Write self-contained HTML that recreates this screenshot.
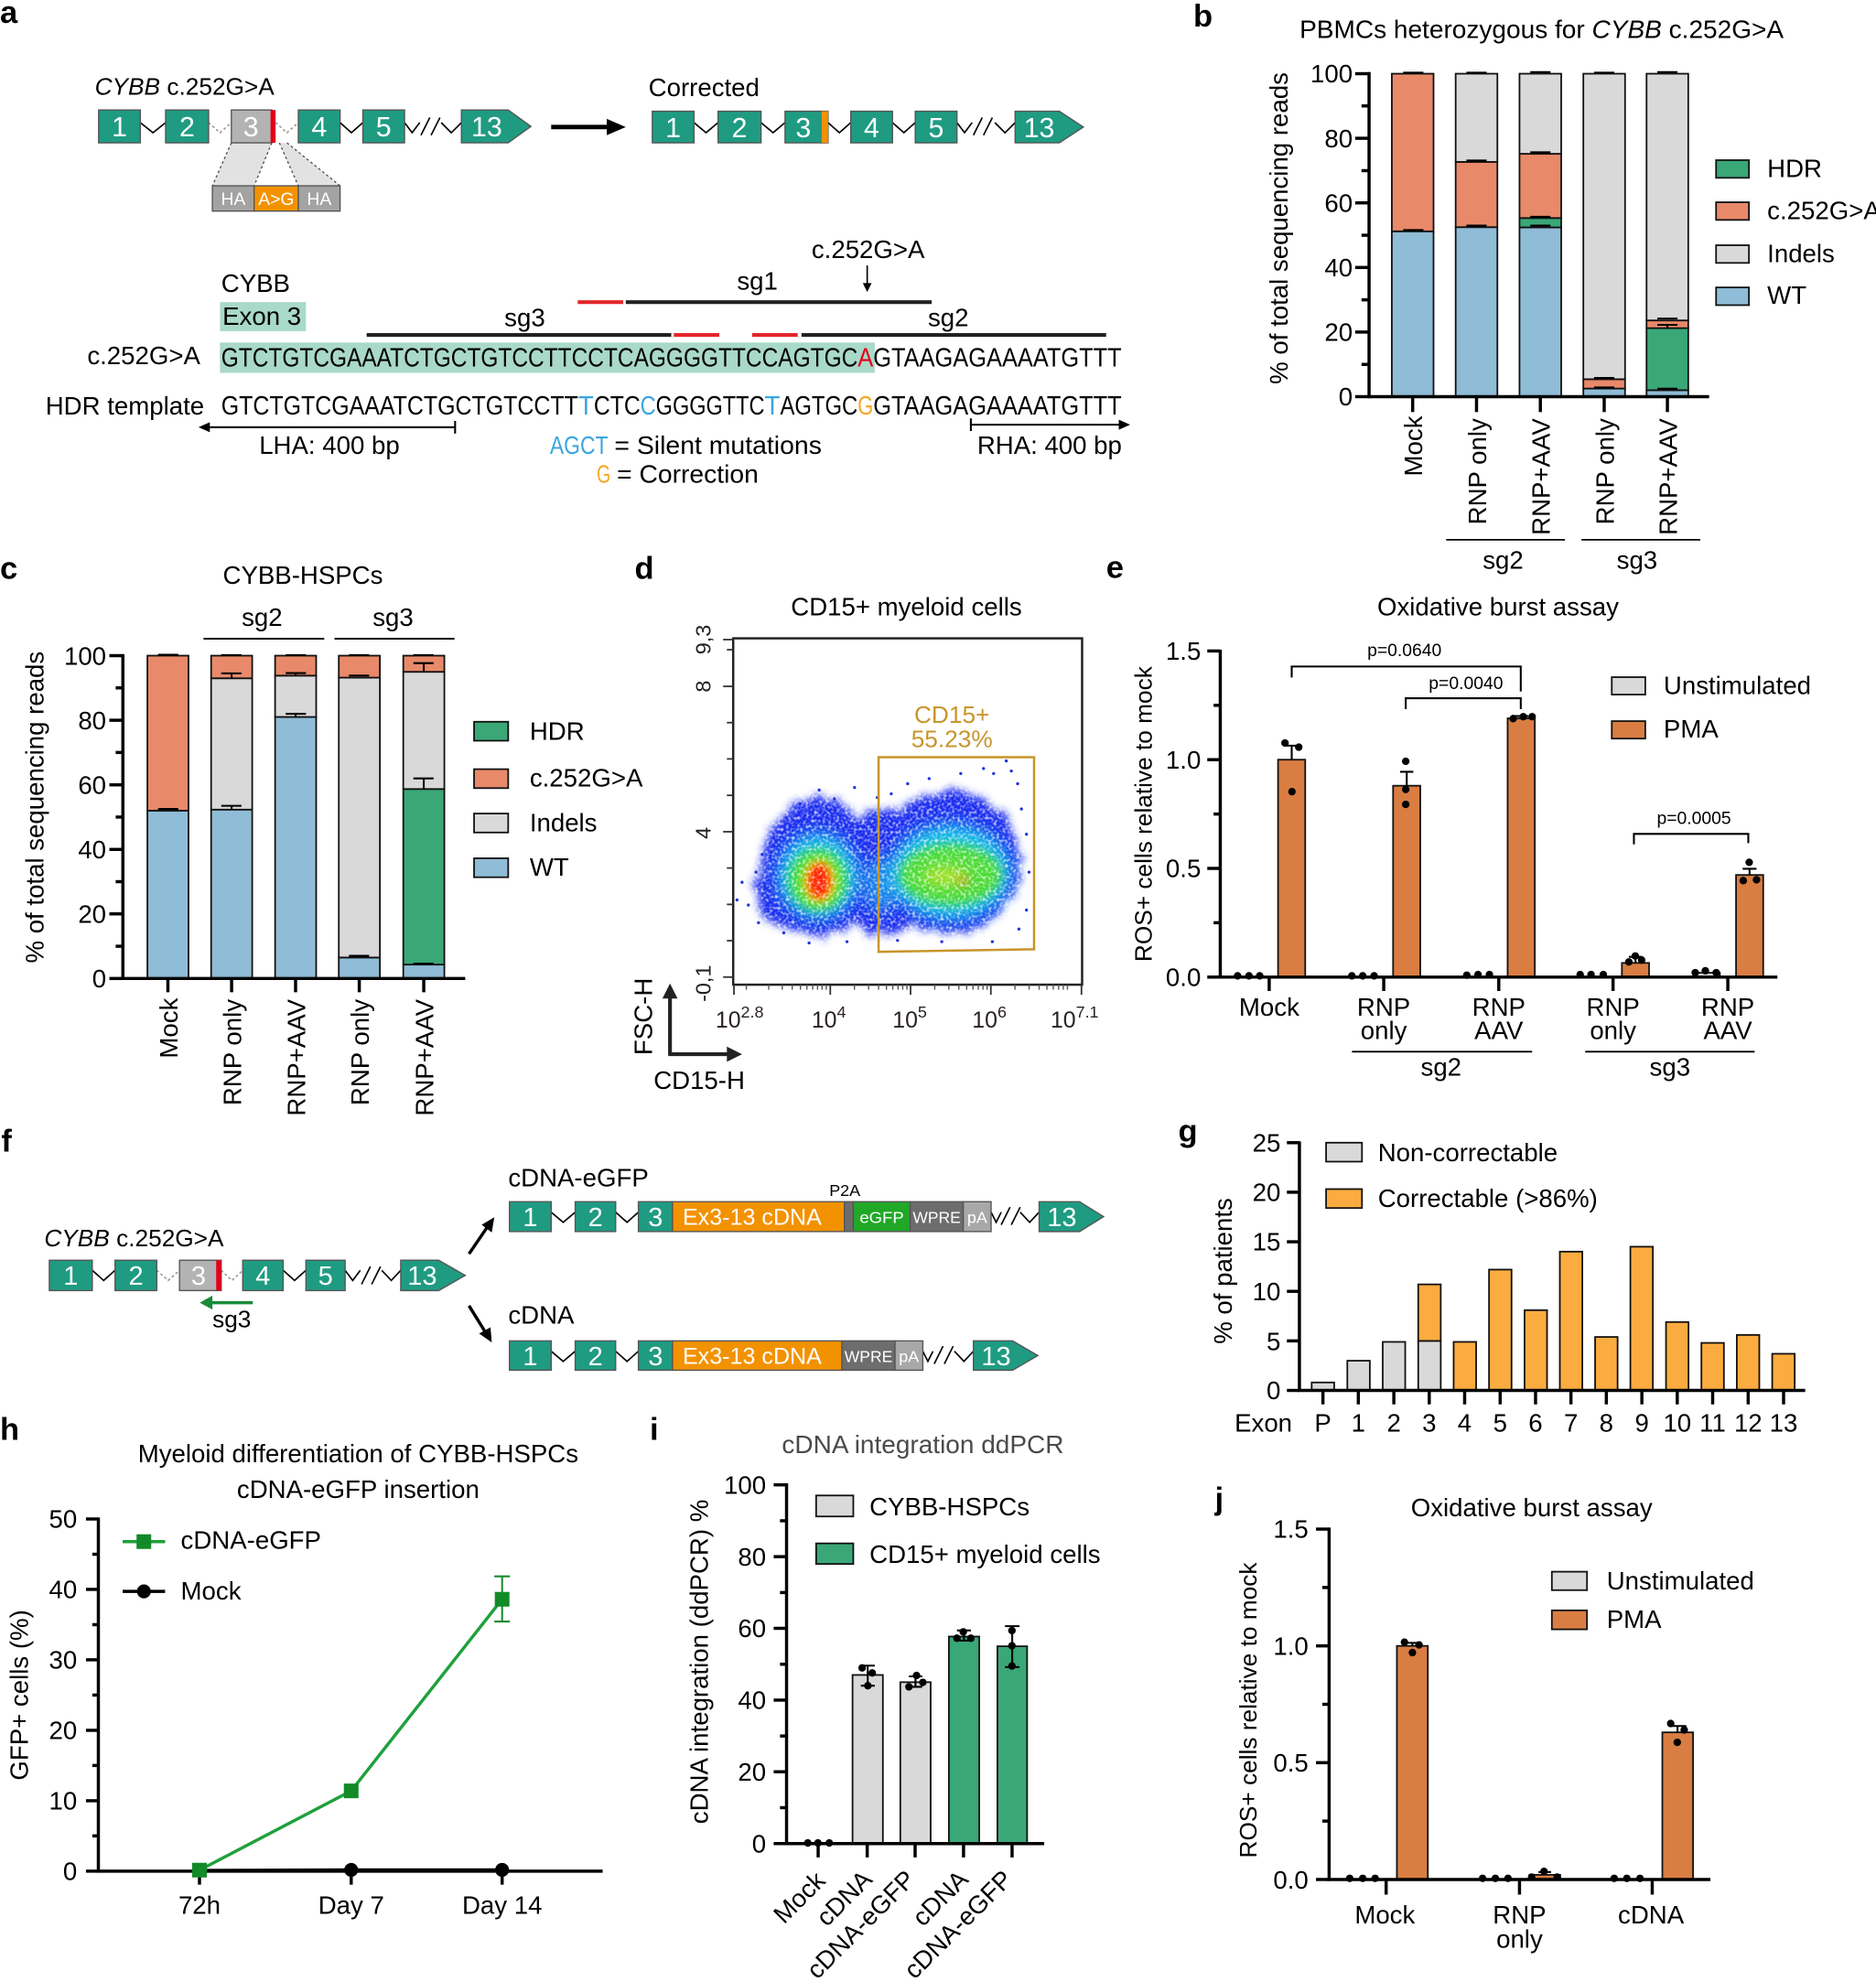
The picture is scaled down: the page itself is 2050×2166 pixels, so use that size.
<!DOCTYPE html>
<html><head><meta charset="utf-8">
<style>
html,body{margin:0;padding:0;background:#fff;}
svg{display:block;}
text{font-family:"Liberation Sans",Arial,sans-serif;}
</style></head><body>
<svg xmlns="http://www.w3.org/2000/svg" width="2050" height="2166" viewBox="0 0 1484 1568">
<defs>
<filter id="bblue" x="-30%" y="-30%" width="160%" height="160%">
<feTurbulence type="fractalNoise" baseFrequency="0.12" numOctaves="2" seed="3" result="n"/>
<feDisplacementMap in="SourceGraphic" in2="n" scale="14" xChannelSelector="R" yChannelSelector="G" result="d"/>
<feGaussianBlur in="d" stdDeviation="3"/>
</filter>
<filter id="b6" x="-50%" y="-50%" width="200%" height="200%"><feGaussianBlur stdDeviation="6"/></filter>
<filter id="b4" x="-50%" y="-50%" width="200%" height="200%"><feGaussianBlur stdDeviation="4"/></filter>
<filter id="b3" x="-50%" y="-50%" width="200%" height="200%"><feGaussianBlur stdDeviation="3"/></filter>
<filter id="speck" x="0" y="0" width="100%" height="100%">
<feTurbulence type="fractalNoise" baseFrequency="0.45" numOctaves="1" seed="7"/>
<feColorMatrix type="matrix" values="0 0 0 0 1  0 0 0 0 1  0 0 0 0 1  3.2 0 0 0 -1.45"/>
</filter>
<clipPath id="clipd"><rect x="581" y="506" width="274" height="272"/></clipPath>
</defs>
<rect width="1484" height="1568" fill="#fff"/>

<!-- panel labels -->
<g font-weight="bold" font-size="25" fill="#000">
<text x="0" y="18">a</text>
<text x="944" y="21">b</text>
<text x="0" y="458">c</text>
<text x="502" y="458">d</text>
<text x="875" y="457">e</text>
<text x="1" y="911">f</text>
<text x="932" y="903">g</text>
<text x="0" y="1139">h</text>
<text x="514" y="1139">i</text>
<text x="961" y="1194">j</text>
</g>

<!-- ================= PANEL A ================= -->
<text x="75" y="75" font-size="19"><tspan font-style="italic">CYBB</tspan> c.252G&gt;A</text>
<text x="513" y="76" font-size="20">Corrected</text>
<g stroke="#000" stroke-width="1.2" fill="none">
<polyline points="111,97 121,105 131,97"/>
<polyline points="269,97 278,105 287,97"/>
<polyline points="320,97 326,105 332,97"/>
<line x1="333" y1="107" x2="340" y2="93"/><line x1="341" y1="107" x2="348" y2="93"/>
<polyline points="349,97 357,105 365,97"/>
</g>
<g stroke="#999" stroke-width="1.2" fill="none" stroke-dasharray="2,2">
<polyline points="165,97 174,105 183,97"/>
<polyline points="218,97 227,105 236,97"/>
</g>
<polygon points="183,113 215,113 201,147 168,147" fill="#d6d6d6" opacity="0.7"/>
<polygon points="221,113 227,113 269,147 236,147" fill="#d6d6d6" opacity="0.7"/>
<g stroke="#555" stroke-width="1" stroke-dasharray="2,2">
<line x1="183" y1="113" x2="168" y2="147"/><line x1="215" y1="113" x2="201" y2="147"/>
<line x1="221" y1="113" x2="236" y2="147"/><line x1="227" y1="113" x2="269" y2="147"/>
</g>
<g stroke="#555" stroke-width="1">
<rect x="78" y="87" width="33" height="26" fill="#1f9b82"/>
<rect x="131" y="87" width="34" height="26" fill="#1f9b82"/>
<rect x="183" y="87" width="32" height="26" fill="#b3b3b3"/>
<rect x="236" y="87" width="33" height="26" fill="#1f9b82"/>
<rect x="287" y="87" width="33" height="26" fill="#1f9b82"/>
<polygon points="365,87 402,87 420,100 402,113 365,113" fill="#1f9b82"/>
</g>
<rect x="214" y="87" width="4" height="26" fill="#e3001b"/>
<g fill="#fff" font-size="22" text-anchor="middle">
<text x="94.5" y="108">1</text><text x="148" y="108">2</text><text x="198.5" y="108">3</text>
<text x="252.5" y="108">4</text><text x="303.5" y="108">5</text><text x="385" y="108">13</text>
</g>
<g stroke="#555" stroke-width="1">
<rect x="168" y="147" width="33" height="20" fill="#a3a3a3"/>
<rect x="201" y="147" width="35" height="20" fill="#f39200"/>
<rect x="236" y="147" width="33" height="20" fill="#a3a3a3"/>
</g>
<g fill="#fff" font-size="14" text-anchor="middle">
<text x="184.5" y="162">HA</text><text x="218.5" y="162">A&gt;G</text><text x="252.5" y="162">HA</text>
</g>
<line x1="436" y1="100.5" x2="483" y2="100.5" stroke="#000" stroke-width="3.5"/>
<polygon points="480,94 495,100.5 480,107" fill="#000"/>
<g stroke="#000" stroke-width="1.2" fill="none">
<polyline points="549,97 558.5,105 568,97"/>
<polyline points="602,97 611.5,105 621,97"/>
<polyline points="655,97 664,105 673,97"/>
<polyline points="706,97 715,105 724,97"/>
<polyline points="757,97 763,105 769,97"/>
<line x1="770" y1="107" x2="777" y2="93"/><line x1="778" y1="107" x2="785" y2="93"/>
<polyline points="787,97 795,105 803,97"/>
</g>
<g stroke="#555" stroke-width="1" fill="#1f9b82">
<rect x="516" y="88" width="33" height="25"/>
<rect x="568" y="88" width="34" height="25"/>
<rect x="621" y="88" width="34" height="25"/>
<rect x="673" y="88" width="33" height="25"/>
<rect x="724" y="88" width="33" height="25"/>
<polygon points="803,88 838,88 857,100.5 838,113 803,113"/>
</g>
<rect x="650" y="88" width="5" height="25" fill="#f39200"/>
<g fill="#fff" font-size="22" text-anchor="middle">
<text x="532.5" y="108.5">1</text><text x="585" y="108.5">2</text><text x="635.5" y="108.5">3</text>
<text x="689.5" y="108.5">4</text><text x="740.5" y="108.5">5</text><text x="822" y="108.5">13</text>
</g>
<text x="175" y="231" font-size="20">CYBB</text>
<rect x="174" y="239" width="68" height="23" fill="#a9d9c8"/>
<text x="176" y="257" font-size="20">Exon 3</text>
<text x="642" y="204" font-size="20">c.252G&gt;A</text>
<line x1="686" y1="210" x2="686" y2="226" stroke="#000" stroke-width="1.2"/>
<polygon points="682.5,224 686,231 689.5,224" fill="#000"/>
<text x="583" y="229" font-size="20">sg1</text>
<text x="399" y="258" font-size="20">sg3</text>
<text x="734" y="258" font-size="20">sg2</text>
<g stroke-width="3">
<line x1="495" y1="239" x2="737" y2="239" stroke="#222"/>
<line x1="457" y1="239" x2="493" y2="239" stroke="#e3262a"/>
<line x1="290" y1="265" x2="531" y2="265" stroke="#222"/>
<line x1="533" y1="265" x2="569" y2="265" stroke="#e3262a"/>
<line x1="595" y1="265" x2="631" y2="265" stroke="#e3262a"/>
<line x1="634" y1="265" x2="875" y2="265" stroke="#222"/>
</g>
<rect x="174" y="271" width="518" height="24" fill="#a9d9c8"/>
<text x="69" y="288" font-size="20">c.252G&gt;A</text>
<g font-size="21">
<text x="175" y="290" textLength="503.5" lengthAdjust="spacingAndGlyphs">GTCTGTCGAAATCTGCTGTCCTTCCTCAGGGGTTCCAGTGC</text>
<text x="678.5" y="290" textLength="12.3" lengthAdjust="spacingAndGlyphs" fill="#e3001b">A</text>
<text x="690.8" y="290" textLength="196.5" lengthAdjust="spacingAndGlyphs">GTAAGAGAAAATGTTT</text>
<text x="175" y="328" textLength="282.4" lengthAdjust="spacingAndGlyphs">GTCTGTCGAAATCTGCTGTCCTT</text>
<text x="457.4" y="328" textLength="12.3" lengthAdjust="spacingAndGlyphs" fill="#3aa6dd">T</text>
<text x="469.7" y="328" textLength="36.8" lengthAdjust="spacingAndGlyphs">CTC</text>
<text x="506.5" y="328" textLength="12.3" lengthAdjust="spacingAndGlyphs" fill="#3aa6dd">C</text>
<text x="518.8" y="328" textLength="86" lengthAdjust="spacingAndGlyphs">GGGGTTC</text>
<text x="604.8" y="328" textLength="12.3" lengthAdjust="spacingAndGlyphs" fill="#3aa6dd">T</text>
<text x="617.1" y="328" textLength="61.4" lengthAdjust="spacingAndGlyphs">AGTGC</text>
<text x="678.5" y="328" textLength="12.3" lengthAdjust="spacingAndGlyphs" fill="#f3a825">G</text>
<text x="690.8" y="328" textLength="196.5" lengthAdjust="spacingAndGlyphs">GTAAGAGAAAATGTTT</text>
</g>
<text x="36" y="328" font-size="20">HDR template</text>
<g stroke="#000" stroke-width="1.5">
<line x1="162" y1="338" x2="360" y2="338"/><line x1="360" y1="333" x2="360" y2="343"/>
<line x1="768" y1="336" x2="886" y2="336"/><line x1="768" y1="331" x2="768" y2="341"/>
</g>
<polygon points="157,338 166,334 166,342" fill="#000"/>
<polygon points="894,336 885,332 885,340" fill="#000"/>
<text x="205" y="359" font-size="20">LHA: 400 bp</text>
<text x="435" y="359" font-size="20" fill="#3aa6dd" textLength="46" lengthAdjust="spacingAndGlyphs">AGCT</text>
<text x="486" y="359" font-size="20" textLength="164" lengthAdjust="spacingAndGlyphs">= Silent mutations</text>
<text x="472" y="382" font-size="20" fill="#f3a825" textLength="11" lengthAdjust="spacingAndGlyphs">G</text>
<text x="488" y="382" font-size="20" textLength="112" lengthAdjust="spacingAndGlyphs">= Correction</text>
<text x="773" y="359" font-size="20">RHA: 400 bp</text>

<!-- ================= PANEL B ================= -->
<text x="1028" y="30" font-size="20" textLength="383" lengthAdjust="spacingAndGlyphs">PBMCs heterozygous for <tspan font-style="italic">CYBB</tspan> c.252G&gt;A</text>
<g stroke="#111" stroke-width="1.3">
<rect x="1101" y="183" width="33" height="130.8" fill="#8fbcd6"/>
<rect x="1101" y="58.3" width="33" height="124.7" fill="#e8896a"/>
<rect x="1151.5" y="179.7" width="33" height="134.1" fill="#8fbcd6"/>
<rect x="1151.5" y="128.1" width="33" height="51.6" fill="#e8896a"/>
<rect x="1151.5" y="58.3" width="33" height="69.8" fill="#d9d9d9"/>
<rect x="1202" y="179.9" width="33" height="133.9" fill="#8fbcd6"/>
<rect x="1202" y="172.5" width="33" height="7.4" fill="#3aa777"/>
<rect x="1202" y="121.7" width="33" height="50.8" fill="#e8896a"/>
<rect x="1202" y="58.3" width="33" height="63.4" fill="#d9d9d9"/>
<rect x="1252.5" y="307.4" width="33" height="6.4" fill="#8fbcd6"/>
<rect x="1252.5" y="300" width="33" height="7.4" fill="#e8896a"/>
<rect x="1252.5" y="58.3" width="33" height="241.7" fill="#d9d9d9"/>
<rect x="1302.5" y="308.7" width="33" height="5.1" fill="#8fbcd6"/>
<rect x="1302.5" y="259.6" width="33" height="49.1" fill="#3aa777"/>
<rect x="1302.5" y="253.5" width="33" height="6.1" fill="#e8896a"/>
<rect x="1302.5" y="58.3" width="33" height="195.2" fill="#d9d9d9"/>
</g>
<g stroke="#000" stroke-width="1.5" fill="none">
<path d="M1110,182 H1126 M1110,57.5 H1126"/>
<path d="M1160,178.5 H1176 M1160,127 H1176 M1160,57.5 H1176"/>
<path d="M1210.5,178.5 H1226.5 M1210.5,171.5 H1226.5 M1210.5,120.5 H1226.5 M1210.5,57 H1226.5"/>
<path d="M1261,306.5 H1277 M1261,299 H1277 M1261,57.5 H1277"/>
<path d="M1311,307.5 H1327 M1319,259.6 V257 M1311,257 H1327 M1311,252 H1327 M1311,57 H1327"/>
</g>
<g stroke="#000" stroke-width="2.5">
<line x1="1083" y1="57" x2="1083" y2="315"/>
<line x1="1082" y1="313.8" x2="1352" y2="313.8"/>
<line x1="1072" y1="313.8" x2="1083" y2="313.8"/><line x1="1072" y1="262.7" x2="1083" y2="262.7"/>
<line x1="1072" y1="211.6" x2="1083" y2="211.6"/><line x1="1072" y1="160.5" x2="1083" y2="160.5"/>
<line x1="1072" y1="109.4" x2="1083" y2="109.4"/><line x1="1072" y1="58.3" x2="1083" y2="58.3"/>
<line x1="1077" y1="288.3" x2="1083" y2="288.3"/><line x1="1077" y1="237.2" x2="1083" y2="237.2"/>
<line x1="1077" y1="186.1" x2="1083" y2="186.1"/><line x1="1077" y1="135" x2="1083" y2="135"/>
<line x1="1077" y1="83.8" x2="1083" y2="83.8"/>
<line x1="1117.5" y1="313.8" x2="1117.5" y2="326"/><line x1="1168" y1="313.8" x2="1168" y2="326"/>
<line x1="1218.5" y1="313.8" x2="1218.5" y2="326"/><line x1="1269" y1="313.8" x2="1269" y2="326"/>
<line x1="1319" y1="313.8" x2="1319" y2="326"/>
</g>
<g font-size="20" text-anchor="end">
<text x="1070" y="320.8">0</text><text x="1070" y="269.7">20</text><text x="1070" y="218.6">40</text>
<text x="1070" y="167.5">60</text><text x="1070" y="116.4">80</text><text x="1070" y="65.3">100</text>
</g>
<text transform="translate(1018.5,180.6) rotate(-90)" font-size="20" text-anchor="middle">% of total sequencing reads</text>
<g font-size="20" text-anchor="end">
<text transform="translate(1125,329) rotate(-90)">Mock</text>
<text transform="translate(1175.5,331) rotate(-90)">RNP only</text>
<text transform="translate(1226,331) rotate(-90)">RNP+AAV</text>
<text transform="translate(1276.5,331) rotate(-90)">RNP only</text>
<text transform="translate(1326.5,331) rotate(-90)">RNP+AAV</text>
</g>
<g stroke="#000" stroke-width="1.3">
<line x1="1144" y1="427" x2="1238" y2="427"/><line x1="1251" y1="427" x2="1345" y2="427"/>
</g>
<text x="1189" y="450" font-size="20" text-anchor="middle">sg2</text>
<text x="1295" y="450" font-size="20" text-anchor="middle">sg3</text>
<g stroke="#111" stroke-width="1.3">
<rect x="1357.5" y="126.7" width="26" height="14" fill="#3aa777"/>
<rect x="1357.5" y="160" width="26" height="14" fill="#e8896a"/>
<rect x="1357.5" y="194" width="26" height="14" fill="#d9d9d9"/>
<rect x="1357.5" y="227.4" width="26" height="14" fill="#8fbcd6"/>
</g>
<g font-size="20">
<text x="1398" y="140">HDR</text><text x="1398" y="173.5">c.252G&gt;A</text>
<text x="1398" y="207.5">Indels</text><text x="1398" y="240.5">WT</text>
</g>

<!-- ================= PANEL C ================= -->
<text x="239.6" y="462" font-size="20" text-anchor="middle">CYBB-HSPCs</text>
<text x="207.3" y="495" font-size="20" text-anchor="middle">sg2</text>
<text x="310.9" y="495" font-size="20" text-anchor="middle">sg3</text>
<g stroke="#000" stroke-width="1.5">
<line x1="161" y1="505.3" x2="256.5" y2="505.3"/><line x1="264.6" y1="505.3" x2="359.5" y2="505.3"/>
</g>
<g stroke="#111" stroke-width="1.3">
<rect x="116.6" y="641.3" width="32.5" height="132.8" fill="#8fbcd6"/>
<rect x="116.6" y="518.7" width="32.5" height="122.6" fill="#e8896a"/>
<rect x="167" y="640.5" width="32.5" height="133.6" fill="#8fbcd6"/>
<rect x="167" y="536.6" width="32.5" height="103.9" fill="#d9d9d9"/>
<rect x="167" y="518.7" width="32.5" height="17.9" fill="#e8896a"/>
<rect x="217.6" y="567.2" width="32.5" height="206.9" fill="#8fbcd6"/>
<rect x="217.6" y="534.5" width="32.5" height="32.7" fill="#d9d9d9"/>
<rect x="217.6" y="518.7" width="32.5" height="15.8" fill="#e8896a"/>
<rect x="268" y="757.5" width="32.5" height="16.6" fill="#8fbcd6"/>
<rect x="268" y="536.1" width="32.5" height="221.4" fill="#d9d9d9"/>
<rect x="268" y="518.7" width="32.5" height="17.4" fill="#e8896a"/>
<rect x="319" y="763.1" width="32.5" height="11" fill="#8fbcd6"/>
<rect x="319" y="624.2" width="32.5" height="138.9" fill="#3aa777"/>
<rect x="319" y="531.5" width="32.5" height="92.7" fill="#d9d9d9"/>
<rect x="319" y="518.7" width="32.5" height="12.8" fill="#e8896a"/>
</g>
<g stroke="#000" stroke-width="1.5" fill="none">
<path d="M125,640 H141 M125,518 H141"/>
<path d="M183.2,640.5 V637.5 M175,637.5 H191 M183.2,536.6 V532.7 M175,532.7 H191 M175,518.3 H191"/>
<path d="M233.8,567.2 V564.7 M226,564.7 H242 M233.8,534.5 V532.5 M226,532.5 H242 M226,518.3 H242"/>
<path d="M276,756.2 H292 M276,534.5 H292 M276,518.3 H292"/>
<path d="M327,762.4 H343 M335.2,624.2 V615.8 M327,615.8 H343 M335.2,531.5 V524.6 M327,524.6 H343 M327,518.3 H343"/>
</g>
<g stroke="#000" stroke-width="2.5">
<line x1="97.2" y1="517.5" x2="97.2" y2="775"/>
<line x1="96" y1="774.1" x2="368" y2="774.1"/>
<line x1="86.5" y1="774.1" x2="97.2" y2="774.1"/><line x1="86.5" y1="723" x2="97.2" y2="723"/>
<line x1="86.5" y1="672" x2="97.2" y2="672"/><line x1="86.5" y1="620.9" x2="97.2" y2="620.9"/>
<line x1="86.5" y1="569.8" x2="97.2" y2="569.8"/><line x1="86.5" y1="518.7" x2="97.2" y2="518.7"/>
<line x1="91.5" y1="748.6" x2="97.2" y2="748.6"/><line x1="91.5" y1="697.5" x2="97.2" y2="697.5"/>
<line x1="91.5" y1="646.4" x2="97.2" y2="646.4"/><line x1="91.5" y1="595.3" x2="97.2" y2="595.3"/>
<line x1="91.5" y1="544.2" x2="97.2" y2="544.2"/>
<line x1="132.8" y1="774.1" x2="132.8" y2="785"/><line x1="183.2" y1="774.1" x2="183.2" y2="785"/>
<line x1="233.8" y1="774.1" x2="233.8" y2="785"/><line x1="284.2" y1="774.1" x2="284.2" y2="785"/>
<line x1="335.2" y1="774.1" x2="335.2" y2="785"/>
</g>
<g font-size="20" text-anchor="end">
<text x="84" y="781">0</text><text x="84" y="730">20</text><text x="84" y="679">40</text>
<text x="84" y="628">60</text><text x="84" y="577">80</text><text x="84" y="526">100</text>
</g>
<text transform="translate(34.5,638.6) rotate(-90)" font-size="20" text-anchor="middle">% of total sequencing reads</text>
<g font-size="20" text-anchor="end">
<text transform="translate(140.3,789.5) rotate(-90)">Mock</text>
<text transform="translate(190.7,790.5) rotate(-90)">RNP only</text>
<text transform="translate(241.3,790.5) rotate(-90)">RNP+AAV</text>
<text transform="translate(291.7,790.5) rotate(-90)">RNP only</text>
<text transform="translate(342.7,790.5) rotate(-90)">RNP+AAV</text>
</g>
<g stroke="#111" stroke-width="1.3">
<rect x="375" y="571" width="27" height="15" fill="#3aa777"/>
<rect x="375" y="608.5" width="27" height="15" fill="#e8896a"/>
<rect x="375" y="643.6" width="27" height="15" fill="#d9d9d9"/>
<rect x="375" y="679" width="27" height="15" fill="#8fbcd6"/>
</g>
<g font-size="20">
<text x="419" y="585.3">HDR</text><text x="419" y="622.3">c.252G&gt;A</text>
<text x="419" y="657.8">Indels</text><text x="419" y="692.7">WT</text>
</g>

<!-- ================= PANEL D ================= -->
<text x="717" y="487" font-size="20" text-anchor="middle">CD15+ myeloid cells</text>
<g clip-path="url(#clipd)">
<g filter="url(#bblue)" fill="#1f2ff0">
<ellipse cx="647" cy="686" rx="44" ry="55"/>
<ellipse cx="752" cy="682" rx="55" ry="57"/>
<rect x="675" y="640" width="50" height="100" rx="20"/>
<ellipse cx="618" cy="705" rx="20" ry="28"/>
</g>
<g filter="url(#b6)">
<ellipse cx="647" cy="693" rx="32" ry="34" fill="#19c0ea"/>
<ellipse cx="752" cy="690" rx="48" ry="38" fill="#19c0ea"/>
<ellipse cx="697" cy="700" rx="14" ry="22" fill="#19c0ea" opacity="0.6"/>
</g>
<g filter="url(#b4)">
<ellipse cx="647" cy="696" rx="23" ry="24" fill="#3ddc3a"/>
<ellipse cx="752" cy="692" rx="40" ry="24" fill="#4cdc35"/>
</g>
<g filter="url(#b4)">
<ellipse cx="648" cy="697" rx="13" ry="17" fill="#ffe000"/>
<ellipse cx="748" cy="693" rx="18" ry="8" fill="#e2e422" opacity="0.55"/>
</g>
<g filter="url(#b3)">
<ellipse cx="648" cy="697" rx="9" ry="14" fill="#ff2200"/>
<ellipse cx="762" cy="697" rx="5" ry="4" fill="#ff5500" opacity="0.4"/>
</g>
<rect x="581" y="506" width="274" height="272" filter="url(#speck)" opacity="0.75"/>
<g fill="#2233dd">
<circle cx="583" cy="712" r="1.2"/><circle cx="587" cy="698" r="1.2"/><circle cx="592" cy="716" r="1.2"/>
<circle cx="598" cy="690" r="1.2"/><circle cx="603" cy="676" r="1.2"/><circle cx="612" cy="663" r="1.2"/>
<circle cx="622" cy="647" r="1.2"/><circle cx="633" cy="636" r="1.2"/><circle cx="648" cy="625" r="1.2"/>
<circle cx="660" cy="632" r="1.2"/><circle cx="676" cy="623" r="1.2"/><circle cx="694" cy="631" r="1.2"/>
<circle cx="705" cy="628" r="1.2"/><circle cx="718" cy="620" r="1.2"/><circle cx="735" cy="616" r="1.2"/>
<circle cx="760" cy="612" r="1.2"/><circle cx="778" cy="608" r="1.2"/><circle cx="786" cy="612" r="1.2"/>
<circle cx="800" cy="610" r="1.2"/><circle cx="805" cy="620" r="1.2"/><circle cx="808" cy="640" r="1.2"/>
<circle cx="812" cy="660" r="1.2"/><circle cx="814" cy="690" r="1.2"/><circle cx="812" cy="720" r="1.2"/>
<circle cx="806" cy="735" r="1.2"/><circle cx="785" cy="745" r="1.2"/><circle cx="745" cy="745" r="1.2"/>
<circle cx="710" cy="744" r="1.2"/><circle cx="670" cy="745" r="1.2"/><circle cx="640" cy="746" r="1.2"/>
<circle cx="620" cy="738" r="1.2"/><circle cx="600" cy="730" r="1.2"/><circle cx="796" cy="602" r="1.2"/>
</g>
</g>
<rect x="580" y="505" width="276" height="274" fill="none" stroke="#222" stroke-width="1.8"/>
<polygon points="695,599 818,599 818,751 695,753" fill="none" stroke="#c8952b" stroke-width="1.8"/>
<text x="753" y="572" font-size="19" fill="#c8952b" text-anchor="middle">CD15+</text>
<text x="753" y="591" font-size="19" fill="#c8952b" text-anchor="middle">55.23%</text>
<g stroke="#333" stroke-width="1.3">
<line x1="572" y1="506" x2="580" y2="506"/><line x1="572" y1="543" x2="580" y2="543"/>
<line x1="572" y1="658" x2="580" y2="658"/><line x1="572" y1="773" x2="580" y2="773"/>
<line x1="575" y1="514" x2="580" y2="514"/><line x1="575" y1="571.7" x2="580" y2="571.7"/>
<line x1="575" y1="600.4" x2="580" y2="600.4"/><line x1="575" y1="629.2" x2="580" y2="629.2"/>
<line x1="575" y1="686.7" x2="580" y2="686.7"/><line x1="575" y1="715.5" x2="580" y2="715.5"/>
<line x1="575" y1="744.2" x2="580" y2="744.2"/>
<line x1="580.6" y1="779" x2="580.6" y2="787"/><line x1="656.8" y1="779" x2="656.8" y2="787"/>
<line x1="720.3" y1="779" x2="720.3" y2="787"/><line x1="783.8" y1="779" x2="783.8" y2="787"/>
<line x1="855.5" y1="779" x2="855.5" y2="787"/>
</g>
<g stroke="#555" stroke-width="1">
<path d="M590.4,779v4M608.1,779v4M618.8,779v4M626.7,779v4M633.2,779v4M638.3,779v4M642.9,779v4M646.7,779v4M650.3,779v4M653.6,779v4
M675.9,779v4M687.1,779v4M695.0,779v4M701.2,779v4M706.2,779v4M710.4,779v4M714.1,779v4M717.4,779v4
M739.4,779v4M750.6,779v4M758.5,779v4M764.7,779v4M769.7,779v4M773.9,779v4M777.6,779v4M780.9,779v4
M802.9,779v4M814.1,779v4M822.0,779v4M828.2,779v4M833.2,779v4M837.4,779v4M841.1,779v4M844.4,779v4"/>
</g>
<g font-size="17" fill="#222">
<text transform="translate(562,506) rotate(-90)" text-anchor="middle">9,3</text>
<text transform="translate(562,543) rotate(-90)" text-anchor="middle">8</text>
<text transform="translate(562,659) rotate(-90)" text-anchor="middle">4</text>
<text transform="translate(562,778) rotate(-90)" text-anchor="middle">-0,1</text>
</g>
<g font-size="18" fill="#2a2222">
<text x="566" y="813">10<tspan font-size="13" dy="-8">2.8</tspan></text>
<text x="642" y="813">10<tspan font-size="13" dy="-8">4</tspan></text>
<text x="706" y="813">10<tspan font-size="13" dy="-8">5</tspan></text>
<text x="769" y="813">10<tspan font-size="13" dy="-8">6</tspan></text>
<text x="831" y="813">10<tspan font-size="13" dy="-8">7.1</tspan></text>
</g>
<g stroke="#222" stroke-width="3" fill="none">
<line x1="530" y1="834" x2="530" y2="788"/>
<line x1="528.6" y1="834" x2="577" y2="834"/>
</g>
<polygon points="524,790 530,778 536,790" fill="#222"/>
<polygon points="575,828 587,834 575,840" fill="#222"/>
<text transform="translate(515.6,804.2) rotate(-90)" font-size="20" text-anchor="middle">FSC-H</text>
<text x="517" y="861.6" font-size="20">CD15-H</text>

<!-- ================= PANEL E ================= -->
<text x="1185" y="487" font-size="20" text-anchor="middle">Oxidative burst assay</text>
<g stroke="#111" stroke-width="1.3">
<rect x="1011" y="601" width="21.5" height="172" fill="#d97d42"/>
<rect x="1102" y="621.6" width="21.5" height="151.4" fill="#d97d42"/>
<rect x="1192.6" y="568.3" width="21.5" height="204.7" fill="#d97d42"/>
<rect x="1283" y="761.8" width="21.5" height="11.2" fill="#d97d42"/>
<rect x="1373.3" y="692.2" width="21.5" height="80.8" fill="#d97d42"/>
<rect x="1339.5" y="769.6" width="21" height="3.4" fill="#d9d9d9"/>
</g>
<g stroke="#000" stroke-width="1.5" fill="none">
<path d="M1021.8,601 V589.9 M1016.5,589.9 H1027"/>
<path d="M1112.8,621.6 V610.6 M1107.5,610.6 H1118"/>
<path d="M1203.4,568.3 V566.5 M1198,566.5 H1209"/>
<path d="M1293.8,761.8 V757 M1288.5,757 H1299"/>
<path d="M1384,692.2 V687.3 M1378.5,687.3 H1389.5"/>
</g>
<g fill="#000">
<circle cx="979" cy="772" r="3"/><circle cx="988" cy="772" r="3"/><circle cx="996.5" cy="772" r="3"/>
<circle cx="1016.5" cy="587.8" r="3"/><circle cx="1027.4" cy="591.1" r="3"/><circle cx="1022" cy="626.3" r="3"/>
<circle cx="1069.4" cy="772" r="3"/><circle cx="1078" cy="772" r="3"/><circle cx="1087" cy="772" r="3"/>
<circle cx="1112" cy="602.3" r="3"/><circle cx="1112" cy="624.5" r="3"/><circle cx="1112" cy="636.4" r="3"/>
<circle cx="1160.3" cy="771.5" r="3"/><circle cx="1169.2" cy="771" r="3"/><circle cx="1178.2" cy="771" r="3"/>
<circle cx="1197" cy="568.5" r="3"/><circle cx="1205" cy="567" r="3"/><circle cx="1212" cy="567" r="3"/>
<circle cx="1250" cy="771" r="3"/><circle cx="1258.6" cy="771" r="3"/><circle cx="1268.3" cy="771" r="3"/>
<circle cx="1293.6" cy="756.3" r="3"/><circle cx="1288.5" cy="761" r="3"/><circle cx="1298.6" cy="759.5" r="3"/>
<circle cx="1341" cy="769.5" r="3"/><circle cx="1349" cy="768" r="3"/><circle cx="1357.6" cy="769.5" r="3"/>
<circle cx="1383.7" cy="682.2" r="3"/><circle cx="1379" cy="696.6" r="3"/><circle cx="1389.5" cy="696" r="3"/>
</g>
<g stroke="#000" stroke-width="2.5">
<line x1="965.3" y1="514" x2="965.3" y2="774"/>
<line x1="964" y1="773" x2="1406" y2="773"/>
<line x1="955" y1="773" x2="965.3" y2="773"/><line x1="955" y1="687" x2="965.3" y2="687"/>
<line x1="955" y1="601" x2="965.3" y2="601"/><line x1="955" y1="515" x2="965.3" y2="515"/>
<line x1="960" y1="730" x2="965.3" y2="730"/><line x1="960" y1="644" x2="965.3" y2="644"/>
<line x1="960" y1="558" x2="965.3" y2="558"/>
<line x1="1004" y1="773" x2="1004" y2="784"/><line x1="1094.6" y1="773" x2="1094.6" y2="784"/>
<line x1="1185.6" y1="773" x2="1185.6" y2="784"/><line x1="1276" y1="773" x2="1276" y2="784"/>
<line x1="1366.8" y1="773" x2="1366.8" y2="784"/>
</g>
<g font-size="20" text-anchor="end">
<text x="950" y="780">0.0</text><text x="950" y="694">0.5</text><text x="950" y="608">1.0</text><text x="950" y="522">1.5</text>
</g>
<text transform="translate(911,644) rotate(-90)" font-size="19" text-anchor="middle">ROS+ cells relative to mock</text>
<g stroke="#000" stroke-width="1.5" fill="none">
<polyline points="1021.8,536 1021.8,527.3 1203,527.3 1203,547"/>
<polyline points="1112,561 1112,552.4 1203,552.4 1203,561"/>
<polyline points="1292.5,668 1292.5,659.7 1383,659.7 1383,667"/>
</g>
<g font-size="14" text-anchor="middle">
<text x="1111" y="519">p=0.0640</text>
<text x="1159.6" y="545">p=0.0040</text>
<text x="1340" y="652">p=0.0005</text>
</g>
<g stroke="#111" stroke-width="1.3">
<rect x="1275" y="535.7" width="26.5" height="13.8" fill="#d9d9d9"/>
<rect x="1275" y="570.5" width="26.5" height="13.8" fill="#d97d42"/>
</g>
<text x="1316" y="549" font-size="20">Unstimulated</text>
<text x="1316" y="583.5" font-size="20">PMA</text>
<g font-size="20" text-anchor="middle">
<text x="1004" y="803.6">Mock</text>
<text x="1094.6" y="803.6">RNP</text><text x="1094.6" y="822">only</text>
<text x="1185.6" y="803.6">RNP</text><text x="1185.6" y="822">AAV</text>
<text x="1276" y="803.6">RNP</text><text x="1276" y="822">only</text>
<text x="1366.8" y="803.6">RNP</text><text x="1366.8" y="822">AAV</text>
<text x="1140" y="851">sg2</text><text x="1321" y="851">sg3</text>
</g>
<g stroke="#000" stroke-width="1.3">
<line x1="1069.5" y1="832" x2="1212" y2="832"/><line x1="1254" y1="832" x2="1388" y2="832"/>
</g>

<!-- ================= PANEL F ================= -->
<text x="35" y="986" font-size="19"><tspan font-style="italic">CYBB</tspan> c.252G&gt;A</text>
<g stroke="#000" stroke-width="1.2" fill="none">
<polyline points="73,1005 82,1013 91,1005"/>
<polyline points="224,1005 233,1013 242,1005"/>
<polyline points="273,1005 279,1013 285,1005"/>
<line x1="286" y1="1016" x2="293" y2="1002"/><line x1="294" y1="1016" x2="301" y2="1002"/>
<polyline points="302,1005 309.5,1013 317,1005"/>
</g>
<g stroke="#999" stroke-width="1.2" fill="none" stroke-dasharray="2,2">
<polyline points="124,1005 133,1013 142,1005"/>
<polyline points="175,1005 183.5,1013 192,1005"/>
</g>
<g stroke="#555" stroke-width="1">
<rect x="39" y="997" width="34" height="24" fill="#1f9b82"/>
<rect x="91" y="997" width="33" height="24" fill="#1f9b82"/>
<rect x="142" y="997" width="33" height="24" fill="#b3b3b3"/>
<rect x="192" y="997" width="32" height="24" fill="#1f9b82"/>
<rect x="242" y="997" width="31" height="24" fill="#1f9b82"/>
<polygon points="317,997 347,997 368,1009 347,1021 317,1021" fill="#1f9b82"/>
</g>
<rect x="171" y="997" width="4" height="24" fill="#e3001b"/>
<g fill="#fff" font-size="21" text-anchor="middle">
<text x="56" y="1016.5">1</text><text x="107.5" y="1016.5">2</text><text x="157" y="1016.5">3</text>
<text x="208" y="1016.5">4</text><text x="257.5" y="1016.5">5</text><text x="334" y="1016.5">13</text>
</g>
<line x1="165" y1="1030.6" x2="200" y2="1030.6" stroke="#1a8a3a" stroke-width="2.5"/>
<polygon points="158,1030.6 168,1025 168,1036" fill="#1a8a3a"/>
<text x="168" y="1050" font-size="19">sg3</text>
<line x1="371" y1="992" x2="386" y2="970" stroke="#000" stroke-width="2.5"/>
<polygon points="381,969 391,963 389,975" fill="#000"/>
<line x1="371" y1="1033" x2="384" y2="1054" stroke="#000" stroke-width="2.5"/>
<polygon points="379,1055 389,1062 388,1050" fill="#000"/>
<text x="402" y="938.6" font-size="20">cDNA-eGFP</text>
<text x="656" y="946" font-size="13">P2A</text>
<text x="402" y="1047" font-size="20">cDNA</text>
<g stroke="#000" stroke-width="1.2" fill="none">
<polyline points="436,959 445.5,967 455,959"/>
<polyline points="487,959 496,967 505,959"/>
<polyline points="784,959 788,967 792,959"/>
<line x1="792" y1="969" x2="799" y2="955"/><line x1="800" y1="969" x2="807" y2="955"/>
<polyline points="807,959 814.5,967 822,959"/>
</g>
<g stroke="#555" stroke-width="1">
<rect x="403" y="950.7" width="33" height="23.6" fill="#1f9b82"/>
<rect x="455" y="950.7" width="32" height="23.6" fill="#1f9b82"/>
<rect x="505" y="950.7" width="27" height="23.6" fill="#1f9b82"/>
<rect x="532" y="950.7" width="136" height="23.6" fill="#f39200"/>
<rect x="668" y="950.7" width="7" height="23.6" fill="#6d6d6d"/>
<rect x="675" y="950.7" width="45" height="23.6" fill="#21a827"/>
<rect x="720" y="950.7" width="42" height="23.6" fill="#6d6d6d"/>
<rect x="762" y="950.7" width="22" height="23.6" fill="#a8a8a8"/>
<polygon points="822,950.7 854,950.7 873,962.5 854,974.3 822,974.3" fill="#1f9b82"/>
</g>
<g fill="#fff" text-anchor="middle">
<text x="419.5" y="970" font-size="21">1</text><text x="471" y="970" font-size="21">2</text>
<text x="518.5" y="970" font-size="21">3</text><text x="840" y="970" font-size="21">13</text>
<text x="540" y="969" font-size="18" text-anchor="start" textLength="110" lengthAdjust="spacingAndGlyphs">Ex3-13 cDNA</text>
<text x="697.5" y="967.5" font-size="13" textLength="35" lengthAdjust="spacingAndGlyphs">eGFP</text>
<text x="741" y="967.5" font-size="13" textLength="38" lengthAdjust="spacingAndGlyphs">WPRE</text>
<text x="773" y="967.5" font-size="13">pA</text>
</g>
<g stroke="#000" stroke-width="1.2" fill="none">
<polyline points="436,1069 445.5,1077 455,1069"/>
<polyline points="487,1069 496,1077 505,1069"/>
<polyline points="730,1069 734,1077 738,1069"/>
<line x1="739" y1="1079" x2="746" y2="1065"/><line x1="747" y1="1079" x2="754" y2="1065"/>
<polyline points="755,1069 762.5,1077 770,1069"/>
</g>
<g stroke="#555" stroke-width="1">
<rect x="403" y="1060.8" width="33" height="23.2" fill="#1f9b82"/>
<rect x="455" y="1060.8" width="32" height="23.2" fill="#1f9b82"/>
<rect x="505" y="1060.8" width="27" height="23.2" fill="#1f9b82"/>
<rect x="532" y="1060.8" width="134" height="23.2" fill="#f39200"/>
<rect x="666" y="1060.8" width="42" height="23.2" fill="#6d6d6d"/>
<rect x="708" y="1060.8" width="22" height="23.2" fill="#a8a8a8"/>
<polygon points="770,1060.8 801,1060.8 821,1072.4 801,1084 770,1084" fill="#1f9b82"/>
</g>
<g fill="#fff" text-anchor="middle">
<text x="419.5" y="1080" font-size="21">1</text><text x="471" y="1080" font-size="21">2</text>
<text x="518.5" y="1080" font-size="21">3</text><text x="788" y="1080" font-size="21">13</text>
<text x="540" y="1079" font-size="18" text-anchor="start" textLength="110" lengthAdjust="spacingAndGlyphs">Ex3-13 cDNA</text>
<text x="687" y="1077.5" font-size="13" textLength="38" lengthAdjust="spacingAndGlyphs">WPRE</text>
<text x="719" y="1077.5" font-size="13">pA</text>
</g>

<!-- ================= PANEL G ================= -->
<g stroke="#111" stroke-width="1.3">
<rect x="1037.6" y="1093.7" width="17.8" height="6.3" fill="#d9d9d9"/>
<rect x="1065.8" y="1076.5" width="17.8" height="23.5" fill="#d9d9d9"/>
<rect x="1093.8" y="1061.6" width="17.8" height="38.4" fill="#d9d9d9"/>
<rect x="1121.9" y="1060.8" width="17.8" height="39.2" fill="#d9d9d9"/>
<rect x="1121.9" y="1016.1" width="17.8" height="44.7" fill="#fbac40"/>
<rect x="1149.9" y="1061.6" width="17.8" height="38.4" fill="#fbac40"/>
<rect x="1177.9" y="1004.4" width="17.8" height="95.6" fill="#fbac40"/>
<rect x="1206" y="1036.5" width="17.8" height="63.5" fill="#fbac40"/>
<rect x="1233.9" y="990.2" width="17.8" height="109.8" fill="#fbac40"/>
<rect x="1261.8" y="1057.7" width="17.8" height="42.3" fill="#fbac40"/>
<rect x="1289.7" y="986.3" width="17.8" height="113.7" fill="#fbac40"/>
<rect x="1317.9" y="1045.9" width="17.8" height="54.1" fill="#fbac40"/>
<rect x="1345.9" y="1062.4" width="17.8" height="37.6" fill="#fbac40"/>
<rect x="1373.9" y="1056.1" width="17.8" height="43.9" fill="#fbac40"/>
<rect x="1401.9" y="1071" width="17.8" height="29" fill="#fbac40"/>
</g>
<g stroke="#000" stroke-width="2.5">
<line x1="1027.9" y1="903" x2="1027.9" y2="1101"/>
<line x1="1026.5" y1="1100" x2="1428" y2="1100"/>
<line x1="1018" y1="1100" x2="1027.9" y2="1100"/><line x1="1018" y1="1060.8" x2="1027.9" y2="1060.8"/>
<line x1="1018" y1="1021.6" x2="1027.9" y2="1021.6"/><line x1="1018" y1="982.4" x2="1027.9" y2="982.4"/>
<line x1="1018" y1="943.2" x2="1027.9" y2="943.2"/><line x1="1018" y1="904" x2="1027.9" y2="904"/>
<path d="M1046.5,1100v11M1074.5,1100v11M1102.6,1100v11M1130.6,1100v11M1158.6,1100v11M1186.7,1100v11M1214.7,1100v11M1242.7,1100v11M1270.7,1100v11M1298.8,1100v11M1326.8,1100v11M1354.8,1100v11M1382.9,1100v11M1410.9,1100v11"/>
</g>
<g font-size="20" text-anchor="end">
<text x="1013" y="1107">0</text><text x="1013" y="1068">5</text><text x="1013" y="1028.6">10</text>
<text x="1013" y="989.4">15</text><text x="1013" y="950.2">20</text><text x="1013" y="911">25</text>
</g>
<text transform="translate(974.5,1005.5) rotate(-90)" font-size="20" text-anchor="middle">% of patients</text>
<g font-size="20" text-anchor="middle">
<text x="999.4" y="1132.6">Exon</text>
<text x="1046.5" y="1132.6">P</text><text x="1074.5" y="1132.6">1</text><text x="1102.6" y="1132.6">2</text>
<text x="1130.6" y="1132.6">3</text><text x="1158.6" y="1132.6">4</text><text x="1186.7" y="1132.6">5</text>
<text x="1214.7" y="1132.6">6</text><text x="1242.7" y="1132.6">7</text><text x="1270.7" y="1132.6">8</text>
<text x="1298.8" y="1132.6">9</text><text x="1326.8" y="1132.6">10</text><text x="1354.8" y="1132.6">11</text>
<text x="1382.9" y="1132.6">12</text><text x="1410.9" y="1132.6">13</text>
</g>
<g stroke="#111" stroke-width="1.3">
<rect x="1049" y="904" width="28.4" height="15" fill="#d9d9d9"/>
<rect x="1049" y="940.7" width="28.4" height="15" fill="#fbac40"/>
</g>
<text x="1090" y="918.7" font-size="20">Non-correctable</text>
<text x="1090" y="955" font-size="20">Correctable (&gt;86%)</text>

<!-- ================= PANEL H ================= -->
<text x="283.3" y="1156.8" font-size="20" text-anchor="middle">Myeloid differentiation of CYBB-HSPCs</text>
<text x="283.3" y="1185.2" font-size="20" text-anchor="middle">cDNA-eGFP insertion</text>
<g stroke="#000" stroke-width="2.5">
<line x1="77.8" y1="1200.5" x2="77.8" y2="1481"/>
<line x1="76.5" y1="1480.3" x2="476.7" y2="1480.3"/>
<line x1="68" y1="1480.3" x2="77.8" y2="1480.3"/><line x1="68" y1="1424.6" x2="77.8" y2="1424.6"/>
<line x1="68" y1="1368.9" x2="77.8" y2="1368.9"/><line x1="68" y1="1313.1" x2="77.8" y2="1313.1"/>
<line x1="68" y1="1257.4" x2="77.8" y2="1257.4"/><line x1="68" y1="1201.7" x2="77.8" y2="1201.7"/>
<line x1="73" y1="1452.4" x2="77.8" y2="1452.4"/><line x1="73" y1="1396.7" x2="77.8" y2="1396.7"/>
<line x1="73" y1="1341" x2="77.8" y2="1341"/><line x1="73" y1="1285.3" x2="77.8" y2="1285.3"/>
<line x1="73" y1="1229.6" x2="77.8" y2="1229.6"/>
<line x1="157.8" y1="1480.3" x2="157.8" y2="1491"/><line x1="277.8" y1="1480.3" x2="277.8" y2="1491"/>
<line x1="397.2" y1="1480.3" x2="397.2" y2="1491"/>
</g>
<g font-size="20" text-anchor="end">
<text x="61" y="1487.3">0</text><text x="61" y="1431.6">10</text><text x="61" y="1375.9">20</text>
<text x="61" y="1320.1">30</text><text x="61" y="1264.4">40</text><text x="61" y="1208.7">50</text>
</g>
<text transform="translate(22,1341) rotate(-90)" font-size="20" text-anchor="middle">GFP+ cells (%)</text>
<g font-size="20" text-anchor="middle">
<text x="157.8" y="1514">72h</text><text x="277.8" y="1514">Day 7</text><text x="397.2" y="1514">Day 14</text>
</g>
<polyline points="157.8,1479.8 277.8,1479.3 397.2,1479.3" fill="none" stroke="#000" stroke-width="2.5"/>
<circle cx="277.8" cy="1479.3" r="5.5" fill="#000"/><circle cx="397.2" cy="1479.3" r="5.5" fill="#000"/>
<polyline points="157.8,1479.5 277.8,1416.8 397.2,1265.2" fill="none" stroke="#1fa03c" stroke-width="2.5"/>
<g stroke="#1a8a30" stroke-width="1.5">
<line x1="397.2" y1="1247.1" x2="397.2" y2="1282.8"/>
<line x1="391" y1="1247.1" x2="403.4" y2="1247.1"/><line x1="391" y1="1282.8" x2="403.4" y2="1282.8"/>
</g>
<g fill="#138a28">
<rect x="152" y="1473.7" width="11.6" height="11.6"/>
<rect x="272" y="1411" width="11.6" height="11.6"/>
<rect x="391.4" y="1259.4" width="11.6" height="11.6"/>
</g>
<line x1="97" y1="1219.6" x2="130.6" y2="1219.6" stroke="#1fa03c" stroke-width="2.5"/>
<rect x="108" y="1213.8" width="11.6" height="11.6" fill="#138a28"/>
<text x="143" y="1225.4" font-size="20">cDNA-eGFP</text>
<line x1="97" y1="1259" x2="130.6" y2="1259" stroke="#000" stroke-width="2.5"/>
<circle cx="113.8" cy="1259" r="5.5" fill="#000"/>
<text x="143" y="1265.4" font-size="20">Mock</text>

<!-- ================= PANEL I ================= -->
<text x="730" y="1149.5" font-size="20" fill="#4a4a4a" text-anchor="middle" textLength="223" lengthAdjust="spacingAndGlyphs">cDNA integration ddPCR</text>
<g stroke="#111" stroke-width="1.3">
<rect x="674.4" y="1325.1" width="24" height="133.4" fill="#d9d9d9"/>
<rect x="712.2" y="1330.8" width="24" height="127.7" fill="#d9d9d9"/>
<rect x="750.6" y="1294.7" width="24" height="163.8" fill="#3aa777"/>
<rect x="789" y="1302.4" width="23.5" height="156.1" fill="#3aa777"/>
</g>
<g stroke="#000" stroke-width="1.5" fill="none">
<path d="M686.4,1333.6 V1317.7 M681,1317.7 H692 M681,1333.6 H692"/>
<path d="M724.2,1334.5 V1326.2 M719,1326.2 H729.5 M719,1334.5 H729.5"/>
<path d="M762.6,1297.9 V1289.9 M757,1289.9 H768 M757,1297.9 H768"/>
<path d="M800.7,1318.9 V1286.5 M795,1286.5 H806.5 M795,1318.9 H806.5"/>
</g>
<g fill="#000">
<circle cx="639" cy="1458" r="3"/><circle cx="647" cy="1458" r="3"/><circle cx="656" cy="1458" r="3"/>
<circle cx="682" cy="1319.5" r="3"/><circle cx="690" cy="1323.5" r="3"/><circle cx="686.5" cy="1333.6" r="3"/>
<circle cx="725" cy="1325.5" r="3"/><circle cx="719" cy="1334.5" r="3"/><circle cx="730" cy="1331" r="3"/>
<circle cx="762" cy="1291" r="3"/><circle cx="757" cy="1296" r="3"/><circle cx="768" cy="1296" r="3"/>
<circle cx="800.5" cy="1290" r="3"/><circle cx="800.5" cy="1302" r="3"/><circle cx="800.5" cy="1318" r="3"/>
</g>
<g stroke="#000" stroke-width="2.5">
<line x1="622.2" y1="1173.5" x2="622.2" y2="1459.5"/>
<line x1="621" y1="1458.5" x2="826" y2="1458.5"/>
<line x1="612" y1="1458.5" x2="622.2" y2="1458.5"/><line x1="612" y1="1401.7" x2="622.2" y2="1401.7"/>
<line x1="612" y1="1345" x2="622.2" y2="1345"/><line x1="612" y1="1288.2" x2="622.2" y2="1288.2"/>
<line x1="612" y1="1231.5" x2="622.2" y2="1231.5"/><line x1="612" y1="1174.7" x2="622.2" y2="1174.7"/>
<line x1="617" y1="1430.1" x2="622.2" y2="1430.1"/><line x1="617" y1="1373.4" x2="622.2" y2="1373.4"/>
<line x1="617" y1="1316.6" x2="622.2" y2="1316.6"/><line x1="617" y1="1259.9" x2="622.2" y2="1259.9"/>
<line x1="617" y1="1203.1" x2="622.2" y2="1203.1"/>
<path d="M647.2,1458.5v11M686,1458.5v11M723.9,1458.5v11M762.2,1458.5v11M800.6,1458.5v11"/>
</g>
<g font-size="20" text-anchor="end">
<text x="606" y="1465.5">0</text><text x="606" y="1408.7">20</text><text x="606" y="1352">40</text>
<text x="606" y="1295.2">60</text><text x="606" y="1238.5">80</text><text x="606" y="1181.7">100</text>
</g>
<text transform="translate(560,1314.6) rotate(-90)" font-size="20" text-anchor="middle">cDNA integration (ddPCR) %</text>
<g font-size="20" text-anchor="end">
<text transform="translate(654,1489) rotate(-45)">Mock</text>
<text transform="translate(691,1488) rotate(-45)">cDNA</text>
<text transform="translate(725,1488) rotate(-45)">cDNA-eGFP</text>
<text transform="translate(767,1488) rotate(-45)">cDNA</text>
<text transform="translate(802,1488) rotate(-45)">cDNA-eGFP</text>
</g>
<g stroke="#111" stroke-width="1.3">
<rect x="645.6" y="1183.1" width="29.4" height="16.6" fill="#d9d9d9"/>
<rect x="645.6" y="1221" width="29.4" height="16.3" fill="#3aa777"/>
</g>
<text x="687.8" y="1198.8" font-size="20">CYBB-HSPCs</text>
<text x="687.8" y="1236.4" font-size="20">CD15+ myeloid cells</text>

<!-- ================= PANEL J ================= -->
<text x="1211.6" y="1199.4" font-size="20" text-anchor="middle">Oxidative burst assay</text>
<g stroke="#111" stroke-width="1.3">
<rect x="1105" y="1302.1" width="24.5" height="184.8" fill="#d97d42"/>
<rect x="1210" y="1483.2" width="24.2" height="3.7" fill="#d97d42"/>
<rect x="1315" y="1370.5" width="24.3" height="116.4" fill="#d97d42"/>
</g>
<g stroke="#000" stroke-width="1.5" fill="none">
<path d="M1117.3,1302.1 V1299.7 M1112.8,1299.7 H1123.2"/>
<path d="M1222,1483.2 V1481 M1217,1481 H1227"/>
<path d="M1327,1370.5 V1365.5 M1320.5,1365.5 H1334"/>
</g>
<g fill="#000">
<circle cx="1067.7" cy="1486" r="3"/><circle cx="1078" cy="1486" r="3"/><circle cx="1087.8" cy="1486" r="3"/>
<circle cx="1111" cy="1299.2" r="3"/><circle cx="1122.5" cy="1301.3" r="3"/><circle cx="1117.3" cy="1307.4" r="3"/>
<circle cx="1172.8" cy="1486" r="3"/><circle cx="1182.9" cy="1486" r="3"/><circle cx="1192.9" cy="1486" r="3"/>
<circle cx="1211.6" cy="1485" r="3"/><circle cx="1221.4" cy="1480.5" r="3"/><circle cx="1231.8" cy="1485" r="3"/>
<circle cx="1276.9" cy="1486" r="3"/><circle cx="1286.9" cy="1486" r="3"/><circle cx="1297.3" cy="1486" r="3"/>
<circle cx="1321.6" cy="1363.5" r="3"/><circle cx="1332.3" cy="1368.6" r="3"/><circle cx="1326.8" cy="1378.4" r="3"/>
</g>
<g stroke="#000" stroke-width="2.5">
<line x1="1051.4" y1="1208.5" x2="1051.4" y2="1488"/>
<line x1="1050" y1="1486.9" x2="1353" y2="1486.9"/>
<line x1="1041" y1="1486.9" x2="1051.4" y2="1486.9"/><line x1="1041" y1="1394.5" x2="1051.4" y2="1394.5"/>
<line x1="1041" y1="1302.1" x2="1051.4" y2="1302.1"/><line x1="1041" y1="1209.7" x2="1051.4" y2="1209.7"/>
<line x1="1046" y1="1440.7" x2="1051.4" y2="1440.7"/><line x1="1046" y1="1348.3" x2="1051.4" y2="1348.3"/>
<line x1="1046" y1="1255.9" x2="1051.4" y2="1255.9"/>
<path d="M1096.5,1486.9v12M1202,1486.9v12M1307,1486.9v12"/>
</g>
<g font-size="20" text-anchor="end">
<text x="1035" y="1494">0.0</text><text x="1035" y="1401.5">0.5</text><text x="1035" y="1309.1">1.0</text><text x="1035" y="1216.7">1.5</text>
</g>
<text transform="translate(994,1353) rotate(-90)" font-size="19" text-anchor="middle">ROS+ cells relative to mock</text>
<g stroke="#111" stroke-width="1.3">
<rect x="1227.6" y="1243.4" width="27.8" height="14.6" fill="#d9d9d9"/>
<rect x="1227.6" y="1274" width="27.8" height="15" fill="#d97d42"/>
</g>
<text x="1271" y="1257.6" font-size="20">Unstimulated</text>
<text x="1271" y="1288" font-size="20">PMA</text>
<g font-size="20" text-anchor="middle">
<text x="1095.5" y="1521.6">Mock</text>
<text x="1202" y="1521.6">RNP</text><text x="1202" y="1541">only</text>
<text x="1306" y="1521.6">cDNA</text>
</g>
</svg>
</body></html>
